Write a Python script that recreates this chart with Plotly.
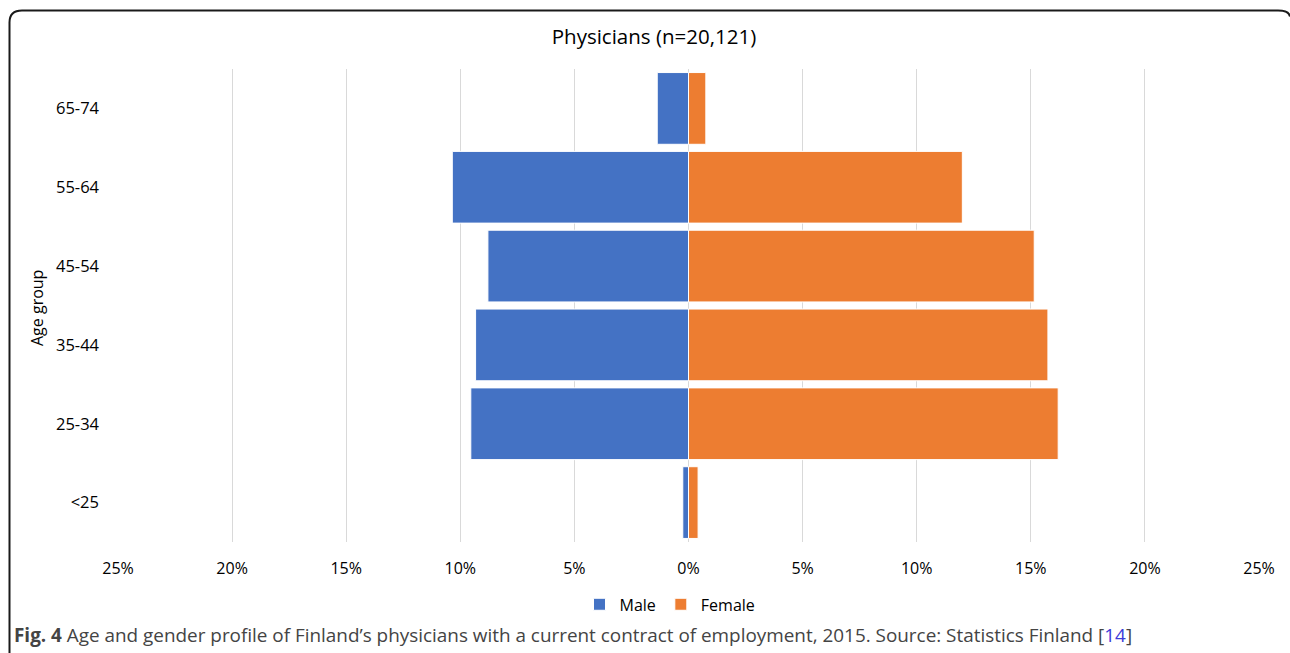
import plotly.graph_objects as go

age_groups = ["<25", "25-34", "35-44", "45-54", "55-64", "65-74"]
male_pct = [0.25, 9.54, 9.33, 8.79, 10.35, 1.37]
female_pct = [0.42, 16.2, 15.75, 15.15, 12.0, 0.76]
tick_vals = [-25, -20, -15, -10, -5, 0, 5, 10, 15, 20, 25]
tick_text = ["25%", "20%", "15%", "10%", "5%", "0%", "5%", "10%", "15%", "20%", "25%"]

W, H = 1290, 653
L, R, T, B = 118, 1259, 68.5, 542.5  # plot area in pixels


def px(x):
    return (x - L) / (R - L)


def py(y):
    return (B - y) / (B - T)


FONT = "Open Sans"

fig = go.Figure()
fig.add_trace(go.Bar(
    y=age_groups, x=[-v for v in male_pct], orientation="h", name="Male",
    marker=dict(color="#4472C4", line=dict(color="white", width=1)),
))
fig.add_trace(go.Bar(
    y=age_groups, x=female_pct, orientation="h", name="Female",
    marker=dict(color="#ED7D31", line=dict(color="white", width=1)),
))

border = (
    f"M {px(9.5)} {py(660)} L {px(9.5)} {py(22)} Q {px(9.5)} {py(10)} {px(22)} {py(10)} "
    f"L {px(1278)} {py(10)} Q {px(1289)} {py(10)} {px(1290)} {py(16)}"
)

fig.update_layout(
    width=W, height=H,
    margin=dict(l=L, r=W - R, t=T, b=H - B),
    paper_bgcolor="white", plot_bgcolor="white",
    barmode="overlay", bargap=0.09,
    font=dict(family=FONT, size=16, color="#000000"),
    title=dict(text="Physicians (n=20,121)", x=px(654), xref="paper", xanchor="center",
               y=1 - 37 / H, yanchor="middle", font=dict(size=20.5, color="#000000", family=FONT)),
    xaxis=dict(range=[-25, 25], tickvals=tick_vals, ticktext=tick_text,
               showgrid=True, gridcolor="#d9d9d9", gridwidth=1,
               zeroline=True, zerolinecolor="#d9d9d9", zerolinewidth=1,
               showline=False, ticks="", ticklabelstandoff=15,
               tickfont=dict(size=16, family=FONT), fixedrange=True),
    yaxis=dict(showgrid=False, zeroline=False, showline=False, ticks="",
               ticklabelstandoff=18, tickfont=dict(size=16.5, family=FONT)),
    legend=dict(orientation="h", x=px(670), xanchor="center", y=py(605), yanchor="middle",
                font=dict(size=16, family=FONT), itemwidth=30, traceorder="normal"),
    shapes=[dict(type="path", xref="paper", yref="paper", path=border,
                 line=dict(color="#1a1a1a", width=2))],
    annotations=[
        dict(text="Age group", textangle=-90, x=px(37), y=py(308), xref="paper", yref="paper",
             xanchor="center", yanchor="middle", showarrow=False,
             font=dict(size=16, family=FONT, color="#000000")),
        dict(text="<b>Fig. 4</b> Age and gender profile of Finland\u2019s physicians with a current contract of "
                  "employment, 2015. Source: Statistics Finland [<span style='color:#3b3bd9'>14</span>]",
             x=px(12), y=py(636), xref="paper", yref="paper", xanchor="left", yanchor="middle",
             showarrow=False, font=dict(size=18.9, family=FONT, color="#444444")),
    ],
)

fig.write_html("out.html", config={"displayModeBar": False},
               post_script="document.body.style.margin='0';document.body.style.overflow='hidden';")
